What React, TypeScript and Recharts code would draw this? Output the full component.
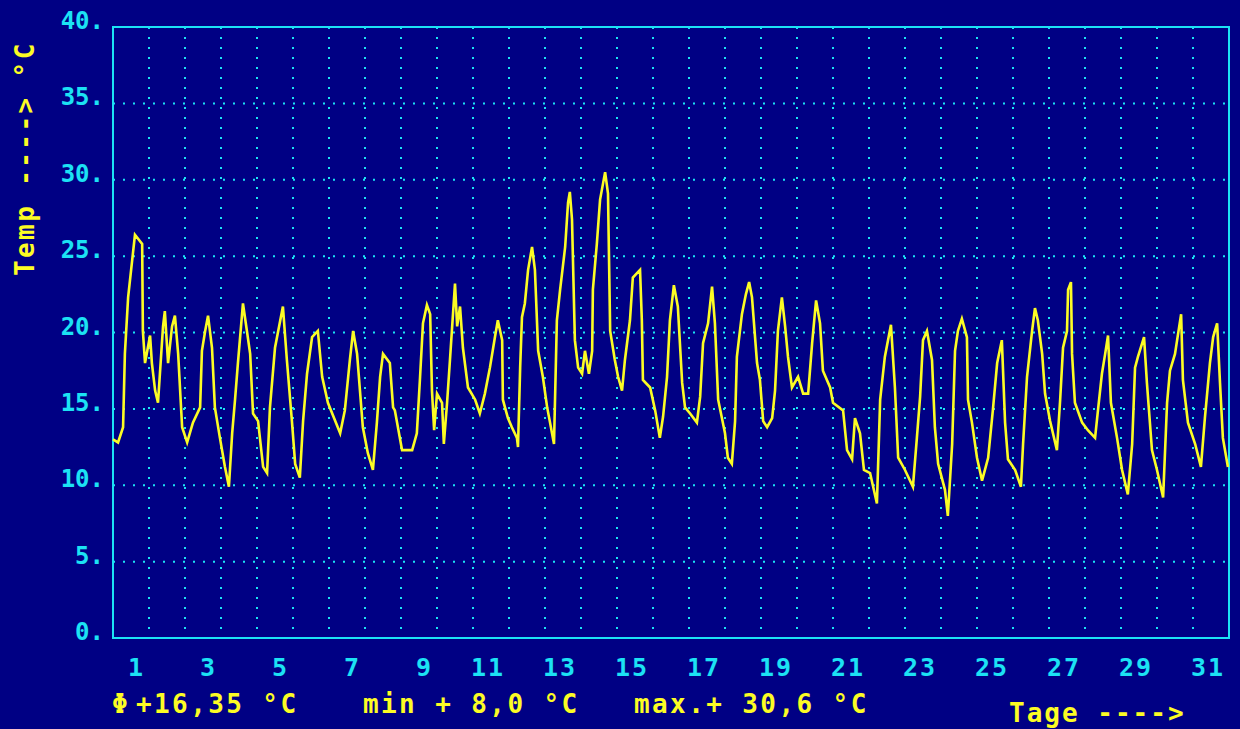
import { LineChart, Line, XAxis, YAxis, CartesianGrid, ReferenceArea } from 'recharts'

// [day of month offset, °C]
const days01to07: [number, number][] = [
  [0.0, 13.0], [0.14, 12.8], [0.28, 13.8], [0.33, 18.6], [0.42, 22.3], [0.61, 26.4], [0.81, 25.8], [0.83, 20.1],
  [0.89, 18.0], [1.03, 19.8], [1.08, 18.0], [1.17, 16.2], [1.25, 15.4], [1.39, 20.4], [1.44, 21.4], [1.53, 18.0],
  [1.64, 20.4], [1.72, 21.1], [1.81, 18.6], [1.92, 13.8], [2.06, 12.8], [2.22, 14.1], [2.42, 15.1], [2.47, 18.8],
  [2.56, 20.1], [2.64, 21.1], [2.75, 19.0], [2.83, 15.1], [2.97, 13.1], [3.11, 11.2], [3.22, 9.9], [3.31, 13.4],
  [3.39, 15.6], [3.47, 18.0], [3.61, 21.9], [3.72, 20.1], [3.81, 18.6], [3.89, 14.7], [4.03, 14.2], [4.17, 11.2],
  [4.28, 10.8], [4.36, 15.1], [4.5, 19.0], [4.72, 21.7], [4.83, 18.2], [4.97, 14.2], [5.06, 11.4], [5.19, 10.5],
  [5.28, 14.2], [5.39, 17.3], [5.53, 19.7], [5.69, 20.1], [5.81, 17.1], [5.97, 15.4], [6.31, 13.4], [6.44, 14.9],
  [6.58, 18.2], [6.67, 20.1], [6.78, 18.6], [6.94, 13.8],
]

const days08to14: [number, number][] = [
  [7.08, 12.1], [7.22, 11.0], [7.33, 14.1], [7.42, 17.1], [7.5, 18.6], [7.69, 18.0], [7.78, 15.1], [7.83, 14.9],
  [8.03, 12.3], [8.31, 12.3], [8.44, 13.4], [8.53, 17.1], [8.61, 20.6], [8.72, 21.8], [8.81, 21.2], [8.86, 16.2],
  [8.92, 13.6], [9.0, 16.0], [9.14, 15.4], [9.19, 12.7], [9.28, 15.4], [9.36, 18.2], [9.5, 23.2], [9.56, 20.4],
  [9.64, 21.7], [9.72, 19.0], [9.86, 16.4], [10.06, 15.6], [10.19, 14.7], [10.33, 16.0], [10.47, 17.7], [10.61, 19.7],
  [10.69, 20.8], [10.81, 19.5], [10.83, 15.6], [10.97, 14.4], [11.08, 13.8], [11.22, 13.1], [11.25, 12.5], [11.31, 17.7],
  [11.36, 21.0], [11.44, 21.9], [11.53, 24.1], [11.64, 25.6], [11.72, 24.1], [11.81, 18.8], [11.94, 17.1], [12.06, 15.1],
  [12.14, 14.1], [12.25, 12.7], [12.33, 20.8], [12.42, 22.8], [12.56, 25.6], [12.64, 28.5], [12.69, 29.2], [12.75, 27.4],
  [12.83, 19.5], [12.92, 17.7], [13.03, 17.3], [13.11, 18.8], [13.22, 17.3], [13.31, 18.8], [13.33, 22.8], [13.44, 25.8],
  [13.53, 28.7], [13.67, 30.5], [13.75, 29.1], [13.81, 20.1], [13.94, 18.2],
]

const days15to21: [number, number][] = [
  [14.03, 17.1], [14.14, 16.2], [14.22, 18.2], [14.36, 20.8], [14.44, 23.6], [14.64, 24.1], [14.69, 20.8], [14.72, 16.9],
  [14.92, 16.4], [15.06, 14.9], [15.19, 13.1], [15.28, 14.5], [15.39, 17.1], [15.47, 20.8], [15.58, 23.1], [15.69, 21.7],
  [15.81, 16.7], [15.89, 15.1], [16.03, 14.7], [16.22, 14.1], [16.31, 15.8], [16.39, 19.3], [16.53, 20.6], [16.64, 23.0],
  [16.72, 20.6], [16.81, 15.6], [17.0, 13.4], [17.08, 11.8], [17.19, 11.4], [17.28, 14.2], [17.33, 18.4], [17.47, 21.2],
  [17.58, 22.5], [17.67, 23.3], [17.75, 22.3], [17.89, 18.0], [17.97, 16.9], [18.06, 14.2], [18.17, 13.8], [18.31, 14.4],
  [18.39, 16.2], [18.47, 20.1], [18.58, 22.3], [18.67, 20.4], [18.75, 18.4], [18.86, 16.4], [19.03, 17.1], [19.17, 16.0],
  [19.31, 16.0], [19.42, 19.3], [19.53, 22.1], [19.64, 20.6], [19.72, 17.5], [19.92, 16.4], [20.0, 15.4], [20.28, 14.9],
  [20.39, 12.3], [20.53, 11.7], [20.61, 14.4], [20.75, 13.4], [20.86, 11.0],
]

const days22to28: [number, number][] = [
  [21.03, 10.8], [21.22, 8.8], [21.31, 15.6], [21.44, 18.4], [21.61, 20.5], [21.72, 16.4], [21.81, 11.8], [22.0, 11.0],
  [22.22, 9.9], [22.33, 13.1], [22.42, 15.8], [22.5, 19.5], [22.61, 20.1], [22.75, 18.2], [22.83, 13.8], [22.92, 11.4],
  [23.11, 9.7], [23.19, 8.0], [23.31, 12.7], [23.39, 18.8], [23.47, 20.1], [23.58, 20.9], [23.72, 19.7], [23.75, 15.6],
  [23.86, 14.1], [24.0, 11.8], [24.14, 10.3], [24.31, 11.8], [24.44, 14.9], [24.56, 18.0], [24.69, 19.5], [24.78, 14.1],
  [24.86, 11.7], [25.06, 11.0], [25.22, 9.9], [25.28, 12.7], [25.39, 17.1], [25.53, 20.1], [25.61, 21.6], [25.69, 20.8],
  [25.81, 18.6], [25.89, 16.0], [26.03, 14.2], [26.22, 12.3], [26.31, 15.6], [26.39, 19.0], [26.5, 20.1], [26.53, 22.8],
  [26.61, 23.3], [26.64, 18.6], [26.72, 15.4], [26.92, 14.1], [27.08, 13.6], [27.28, 13.1], [27.36, 14.9], [27.47, 17.3],
  [27.56, 18.6], [27.64, 19.8], [27.72, 15.4], [27.89, 13.1],
]

const days29to31: [number, number][] = [
  [28.03, 11.0], [28.19, 9.4], [28.31, 12.7], [28.39, 17.7], [28.47, 18.4], [28.64, 19.7], [28.72, 16.7], [28.86, 12.3],
  [29.0, 11.0], [29.17, 9.2], [29.28, 15.4], [29.36, 17.5], [29.5, 18.6], [29.67, 21.2], [29.72, 16.9], [29.86, 14.1],
  [30.06, 12.7], [30.22, 11.2], [30.33, 14.4], [30.47, 18.0], [30.56, 19.7], [30.67, 20.6], [30.75, 16.7], [30.83, 13.1],
  [30.97, 11.2],
]

const dayTicks = Array.from({ length: 31 }, (_, i) => i + 1)
const tempTicks = [0, 5, 10, 15, 20, 25, 30, 35, 40]

const avgText = '+16,35 °C'
const minText = 'min + 8,0 °C'
const maxText = 'max.+ 30,6 °C'

const BG = '#000084'
const CYAN = '#1ce2f4'
const YELLOW = '#fcfc24'
const FONT = '"DejaVu Sans Mono", monospace'

const data = [...days01to07, ...days08to14, ...days15to21, ...days22to28, ...days29to31].map(([t, temp]) => ({ t, temp }))

const DayTick = ({ x, y, payload }: any) => {
  if (payload.value % 2 === 0) return null
  return (
    <text x={x - 4} y={y + 38} textAnchor="end" fill={CYAN} fontFamily={FONT} fontWeight="bold" fontSize={25} letterSpacing={2}>
      {payload.value}
    </text>
  )
}

const TempTick = ({ x, y, payload }: any) => (
  <text x={x} y={y + 2} textAnchor="end" fill={CYAN} fontFamily={FONT} fontWeight="bold" fontSize={24}>
    {`${payload.value}.`}
  </text>
)

const label = { fill: YELLOW, fontFamily: FONT, fontWeight: 'bold' as const, fontSize: 26, letterSpacing: 2.4 }

export default function App() {
  return (
    <div style={{ position: 'absolute', left: 0, top: 0, width: 1240, height: 729, background: BG }}>
      <LineChart width={1240} height={729} data={data} margin={{ top: 27, right: 11, bottom: 41, left: 0 }}>
        <CartesianGrid stroke={CYAN} strokeWidth={2} strokeDasharray="2 8" />
        <XAxis
          dataKey="t"
          type="number"
          domain={[0, 31]}
          ticks={dayTicks}
          interval={0}
          height={50}
          axisLine={false}
          tickLine={false}
          tickSize={0}
          tickMargin={0}
          tick={<DayTick />}
        />
        <YAxis
          type="number"
          domain={[0, 40]}
          ticks={tempTicks}
          interval={0}
          width={113}
          axisLine={false}
          tickLine={false}
          tickSize={9}
          tickMargin={0}
          tick={<TempTick />}
        />
        <ReferenceArea x1={0} x2={31} y1={0} y2={40} fill="none" stroke={CYAN} strokeWidth={2} fillOpacity={0} />
        <Line type="linear" dataKey="temp" stroke={YELLOW} strokeWidth={2.6} dot={false} isAnimationActive={false} />
      </LineChart>
      <svg width={1240} height={729} style={{ position: 'absolute', left: 0, top: 0, pointerEvents: 'none' }}>
        <text x={34} y={276} transform="rotate(-90 34 276)" {...label}>
          Temp ----&gt; °C
        </text>
        <text x={112} y={713} {...label}>Φ</text>
        <text x={136} y={713} {...label}>{avgText}</text>
        <text x={363} y={713} {...label}>{minText}</text>
        <text x={634} y={713} {...label}>{maxText}</text>
        <text x={1009} y={722} {...label} letterSpacing={2}>Tage ----&gt;</text>
      </svg>
    </div>
  )
}
